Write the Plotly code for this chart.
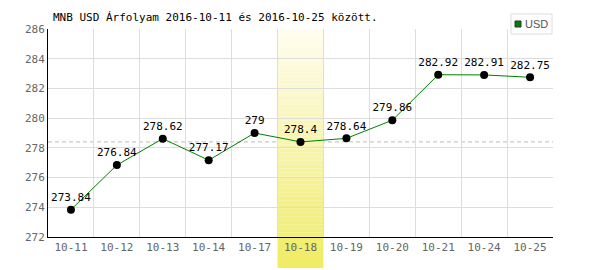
import plotly.graph_objects as go

dates = ["10-11", "10-12", "10-13", "10-14", "10-17", "10-18", "10-19", "10-20", "10-21", "10-24", "10-25"]
values = [273.84, 276.84, 278.62, 277.17, 279.0, 278.4, 278.64, 279.86, 282.92, 282.91, 282.75]
labels = ["273.84", "276.84", "278.62", "277.17", "279", "278.4", "278.64", "279.86", "282.92", "282.91", "282.75"]
ref_value = 278.4
highlight_index = 5
series_name = "USD"
title_text = "MNB USD Árfolyam 2016-10-11 és 2016-10-25 között."

FONT = "DejaVu Sans Mono"

fig = go.Figure()
fig.add_trace(go.Scatter(
    x=dates, y=values, mode="lines+markers+text",
    text=labels, textposition="top center",
    textfont=dict(family=FONT, size=11, color="#000"),
    line=dict(color="#008000", width=1),
    marker=dict(color="#000", size=8),
    showlegend=False, cliponaxis=False, name=series_name,
))

# pixel geometry helpers
L, R, T, B = 48, 553, 29, 237
def px(xp):
    return (xp - L) / (R - L)
def py(yp):
    return (B - yp) / (B - T)

shapes = []
shapes.append(dict(type="line", xref="paper", yref="y", x0=0, x1=1, y0=ref_value, y1=ref_value,
                   line=dict(color="#bbbbbb", width=1, dash="4px,3px"), layer="between"))

# gradient band
top_c = (255, 253, 240)
bot_c = (240, 236, 98)
n = 60
ptop, pband = 29.0, 268.0
for i in range(n):
    p0 = ptop + (pband - ptop) * i / n
    p1 = ptop + (pband - ptop) * (i + 1) / n
    t = (i + 0.5) / n
    c = tuple(round(top_c[k] + (bot_c[k] - top_c[k]) * t) for k in range(3))
    col = "rgb(%d,%d,%d)" % c
    y0p, y1p = py(p1), py(p0)
    common = dict(type="rect", xref="x", yref="paper", x0=highlight_index - 0.5, x1=highlight_index + 0.5,
                  fillcolor=col, line=dict(width=0))
    if y0p >= 0:
        shapes.append(dict(common, y0=y0p, y1=y1p, layer="between"))
    elif y1p <= 0:
        shapes.append(dict(common, y0=y0p, y1=y1p + 0.001, layer="below"))
    else:
        shapes.append(dict(common, y0=0, y1=y1p, layer="between"))
        shapes.append(dict(common, y0=y0p, y1=0, layer="below"))

# legend box
shapes.append(dict(type="rect", xref="paper", yref="paper", x0=px(511), x1=px(552), y0=py(34), y1=py(14),
                   fillcolor="white", line=dict(color="#dddddd", width=1), layer="above"))
shapes.append(dict(type="rect", xref="paper", yref="paper", x0=px(515), x1=px(521), y0=py(27), y1=py(21),
                   fillcolor="#008000", line=dict(color="#333", width=1), layer="above"))

fig.update_layout(
    width=600, height=270,
    margin=dict(l=L, r=600 - R, t=T, b=270 - B),
    paper_bgcolor="white", plot_bgcolor="white",
    shapes=shapes,
    showlegend=False,
    annotations=[dict(text=series_name, xref="paper", yref="paper", x=px(523), y=py(24),
                      xanchor="left", yanchor="middle", showarrow=False,
                      font=dict(family="Liberation Sans Narrow, Liberation Sans", size=11, color="#555"))],
    title=dict(text=title_text, x=53 / 600, xanchor="left", y=1 - 17 / 270, yanchor="middle",
               font=dict(family=FONT, size=11, color="#000")),
    xaxis=dict(type="category", range=[-0.5, len(dates) - 0.5], tickson="boundaries",
               showgrid=True, gridcolor="#dddddd", gridwidth=1,
               showline=True, linecolor="#000", linewidth=1, ticks="",
               tickfont=dict(family=FONT, size=11, color="#666")),
    yaxis=dict(range=[272, 286], dtick=2, tick0=272,
               showgrid=True, gridcolor="#dddddd", gridwidth=1,
               showline=True, linecolor="#000", linewidth=1, ticks="",
               zeroline=False,
               tickfont=dict(family=FONT, size=11, color="#666")),
)

fig.write_html("out.html")
